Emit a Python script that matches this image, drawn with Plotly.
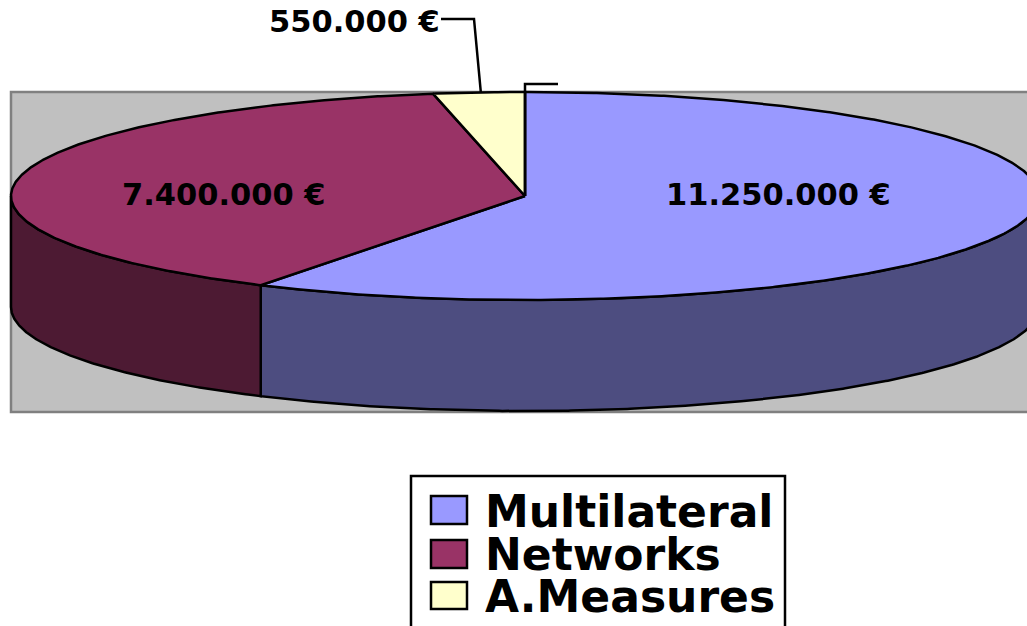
import numpy as np
import plotly.graph_objects as go

categories = ["Multilateral", "Networks", "A.Measures"]
values = [11250000, 7400000, 550000]
labels = ["11.250.000 €", "7.400.000 €", "550.000 €"]
top_colors = ["#9999FF", "#993366", "#FFFFCC"]
side_colors = ["#4D4D80", "#4D1A33", "#80806A"]

W, H = 1027, 626
CX, CY, RX, RY, DEPTH = 525, 196, 514, 104, 111
BLACK = "#000000"
EDGE = 2.5


def rim(a0, a1, drop=0.0):
    t = np.radians(np.linspace(a0, a1, max(2, int(abs(a1 - a0) * 3) + 1)))
    return CX + RX * np.sin(t), CY - RY * np.cos(t) + drop


edges = np.concatenate([[0.0], np.cumsum(values)]) / sum(values) * 360.0

fig = go.Figure()

# Plot-area backdrop
fig.add_shape(type="rect", x0=11, x1=W + 20, y0=92, y1=412,
              fillcolor="#C0C0C0", line=dict(color="#808080", width=2.5), layer="below")

# Visible outer wall (front half of the disc, 90..270 degrees clockwise from top)
for i, name in enumerate(categories):
    a0, a1 = max(edges[i], 90.0), min(edges[i + 1], 270.0)
    if a1 <= a0:
        continue
    xt, yt = rim(a0, a1)
    xb, yb = rim(a1, a0, DEPTH)
    fig.add_trace(go.Scatter(
        x=np.r_[xt, xb, xt[0]], y=np.r_[yt, yb, yt[0]], mode="lines", fill="toself",
        fillcolor=side_colors[i], line=dict(color=BLACK, width=EDGE),
        hoverinfo="skip", showlegend=False))

# Top face slices
for i, name in enumerate(categories):
    xr, yr = rim(edges[i], edges[i + 1])
    fig.add_trace(go.Scatter(
        x=np.r_[CX, xr, CX], y=np.r_[CY, yr, CY], mode="lines", fill="toself",
        fillcolor=top_colors[i], line=dict(color=BLACK, width=EDGE),
        name=name, hovertext=labels[i], hoverinfo="name+text", showlegend=False))

# Leader lines
mid = np.radians((edges[2] + edges[3]) / 2)
fig.add_trace(go.Scatter(x=[441, 474, CX + RX * np.sin(mid) + 2], y=[19, 19, 92], mode="lines",
                         line=dict(color=BLACK, width=EDGE), hoverinfo="skip", showlegend=False))
fig.add_trace(go.Scatter(x=[558, CX, CX], y=[84, 84, CY], mode="lines",
                         line=dict(color=BLACK, width=EDGE), hoverinfo="skip", showlegend=False))

label_font = dict(family="DejaVu Sans", size=30.5, color=BLACK, weight="bold")
label_pos = [(778, 194, "center"), (224, 194, "center"), (442, 21, "right")]
for text, (x, y, anchor) in zip(labels, label_pos):
    fig.add_annotation(x=x, y=y, text=text, showarrow=False, xanchor=anchor, yanchor="middle",
                       font=label_font, xref="x", yref="y")

# Key box, clipped by the page bottom as in the source
fig.add_shape(type="rect", x0=411, x1=785, y0=476, y1=H + 30,
              fillcolor="#FFFFFF", line=dict(color=BLACK, width=EDGE))
rows = [(496, 524, 511), (540, 568, 554), (582, 609, 596)]
for i, (y0, y1, yc) in enumerate(rows):
    fig.add_shape(type="rect", x0=431, x1=467, y0=y0, y1=y1,
                  fillcolor=top_colors[i], line=dict(color=BLACK, width=EDGE))
    fig.add_annotation(x=484, y=yc, text=categories[i], showarrow=False, xanchor="left", yanchor="middle",
                       height=42, font=dict(family="DejaVu Sans", size=44, color=BLACK, weight="bold"),
                       xref="x", yref="y", borderpad=0)

fig.update_layout(
    width=W, height=H, margin=dict(l=0, r=0, t=0, b=0),
    paper_bgcolor="#FFFFFF", plot_bgcolor="#FFFFFF", showlegend=False,
    xaxis=dict(range=[0, W], visible=False, fixedrange=True),
    yaxis=dict(range=[H, 0], visible=False, fixedrange=True),
)

fig.write_html("out.html", config={"displayModeBar": False},
               post_script="document.body.style.margin='0';document.body.style.overflow='hidden';")
